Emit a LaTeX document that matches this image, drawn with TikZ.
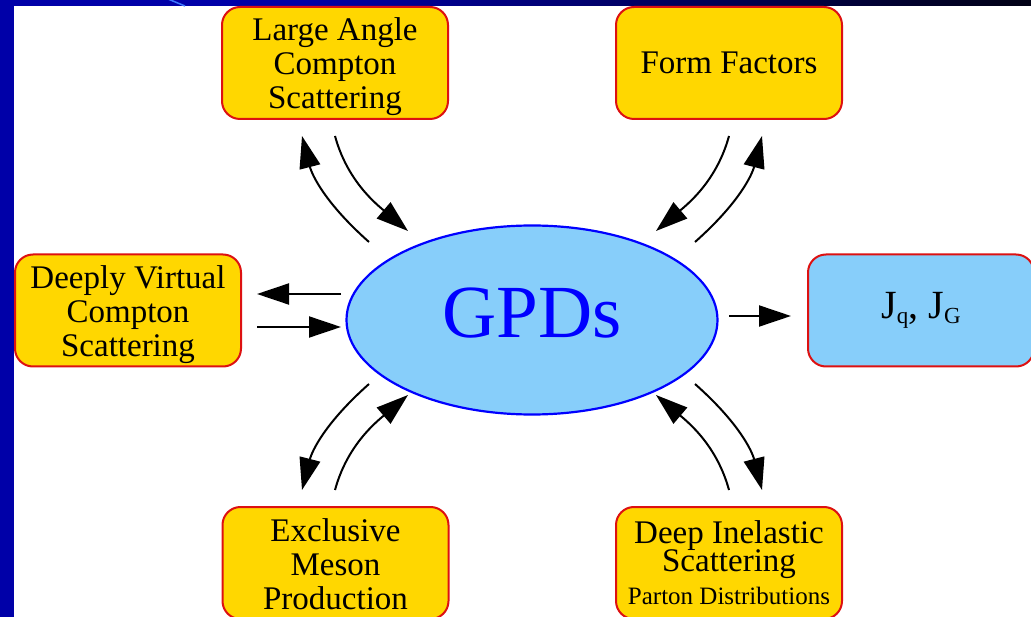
\documentclass[tikz,border=0pt]{standalone}
\usepackage{fontspec}
\setmainfont{Liberation Serif}
\usetikzlibrary{arrows.meta,shapes.geometric}
\definecolor{boxyellow}{HTML}{FFD700}
\definecolor{boxred}{HTML}{DD1111}
\definecolor{skyfill}{HTML}{87CEFA}
\definecolor{gpdblue}{HTML}{0000FF}
\definecolor{framebar}{HTML}{0000A8}
\definecolor{framedark}{HTML}{000014}
\definecolor{streak}{HTML}{3C78FF}

% struts that fix the first-line height and last-line depth of box texts
\newcommand\firstlinestrut[1][32pt]{\rule{0pt}{#1}}
\newcommand\lastlinestrut{\rule[-8pt]{0pt}{8pt}}

\begin{document}
\begin{tikzpicture}[x=1pt,y=-1pt,
  topic/.style={draw=boxred, line width=2pt, fill=boxyellow,
    rounded corners=18pt, minimum width=226pt, minimum height=112pt,
    align=center, inner sep=0pt, font=\fontsize{33}{34}\selectfont},
  result/.style={topic, fill=skyfill},
  flow/.style={line width=2pt, -{Triangle[length=32pt,width=21pt]}},
]
\useasboundingbox (0,0) rectangle (1031,617);
\clip (0,0) rectangle (1031,617);

% slide frame
\fill[white] (0,0) rectangle (1031,617);
\fill[framebar] (0,0) rectangle (14,617);
\fill[framebar] (0,0) rectangle (300,6);
\shade[left color=framebar, right color=framedark] (300,0) rectangle (1031,6);
\draw[streak, line width=1.5pt] (168,-1) -- (185,6);

% central ellipse
\node[ellipse, draw=gpdblue, line width=2.2pt, fill=skyfill,
      minimum width=371pt, minimum height=189pt, inner sep=0pt,
      text=gpdblue, font=\fontsize{75}{75}\selectfont,
      text height=50pt, text depth=14pt] (gpd) at (532,320) {GPDs};

% surrounding topics
\node[topic] (lacs) at (335,63)
  {\firstlinestrut Large Angle\\Compton\\Scattering\lastlinestrut};
\node[topic] (ff)   at (729,63) {Form Factors};
\node[topic] (dvcs) at (128,310.5)
  {\firstlinestrut Deeply Virtual\\Compton\\Scattering\lastlinestrut};
\node[result] (jqg) at (921,310.5)
  {\fontsize{40}{40}\selectfont J\raisebox{-5pt}{\fontsize{23}{23}\selectfont q}, J\raisebox{-5pt}{\fontsize{23}{23}\selectfont G}};
\node[topic] (emp)  at (335.5,563)
  {\firstlinestrut Exclusive\\Meson\\Production\lastlinestrut};
\node[topic] (dis)  at (729,563)
  {\firstlinestrut[29pt]Deep Inelastic\\[-6pt]Scattering\\[-1pt]{\fontsize{25}{26}\selectfont Parton Distributions}\lastlinestrut};

% arrow end points
\coordinate (lacsIn)  at (369,242); \coordinate (lacsOut) at (302,136);
\coordinate (lacsTop) at (335,136); \coordinate (lacsEnd) at (408,231);
\coordinate (ffTop)   at (729,136); \coordinate (ffEnd)   at (656,231);
\coordinate (ffIn)    at (695,242); \coordinate (ffOut)   at (762,136);
\coordinate (empIn)   at (369,384); \coordinate (empOut)  at (302,490);
\coordinate (empBot)  at (335,490); \coordinate (empEnd)  at (408,395);
\coordinate (disBot)  at (729,490); \coordinate (disEnd)  at (656,395);
\coordinate (disIn)   at (695,384); \coordinate (disOut)  at (762,490);
\coordinate (dvcsA)   at (341,294); \coordinate (dvcsB)   at (257,294);
\coordinate (dvcsC)   at (257,327); \coordinate (dvcsD)   at (341,327);
\coordinate (jA)      at (729,316); \coordinate (jB)      at (791,316);

% curved arrow pairs
\draw[flow] (lacsIn) .. controls (325,203) and (312,175) .. (lacsOut);
\draw[flow] (lacsTop) .. controls (347,180) and (375,203) .. (lacsEnd);
\draw[flow] (ffTop) .. controls (717,180) and (689,203) .. (ffEnd);
\draw[flow] (ffIn) .. controls (739,203) and (752,175) .. (ffOut);
\draw[flow] (empIn) .. controls (325,423) and (312,451) .. (empOut);
\draw[flow] (empBot) .. controls (347,446) and (375,423) .. (empEnd);
\draw[flow] (disBot) .. controls (717,446) and (689,423) .. (disEnd);
\draw[flow] (disIn) .. controls (739,423) and (752,451) .. (disOut);

% straight arrows
\draw[flow] (dvcsA) -- (dvcsB);
\draw[flow] (dvcsC) -- (dvcsD);
\draw[flow] (jA) -- (jB);
\end{tikzpicture}
\end{document}
